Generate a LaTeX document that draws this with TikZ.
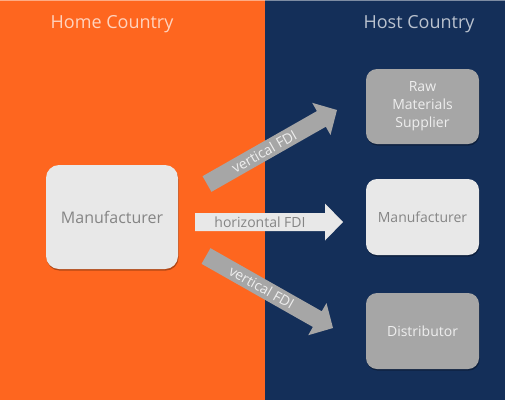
\documentclass[tikz,border=0pt]{standalone}
\usepackage{fontspec}
\setmainfont{Open Sans}
\usetikzlibrary{calc,shadows}
\definecolor{homeorange}{HTML}{FE661F}
\definecolor{hostnavy}{HTML}{142F59}
\definecolor{hometitle}{HTML}{FFD3BE}
\definecolor{hosttitle}{HTML}{BAC2CE}
\definecolor{lightbox}{HTML}{E8E8E8}
\definecolor{darkbox}{HTML}{A6A6A6}
\definecolor{darktext}{HTML}{858585}
\definecolor{lighttext}{HTML}{EEEEEE}
\tikzset{
  title/.style={font=\fontsize{18}{22}\selectfont, anchor=base},
  boxbase/.style={rounded corners=11pt, inner sep=2pt, align=center,
    drop shadow={shadow xshift=0.6pt, shadow yshift=-1.6pt, opacity=0.3, fill=black}},
  lightnode/.style={boxbase, fill=lightbox, text=darktext},
  darknode/.style={boxbase, fill=darkbox, text=lighttext},
  arrowlabel/.style={font=\fontsize{14}{16}\selectfont, inner sep=0pt},
}
% fat arrow: #1 tail, #2 tip, #3 fill, #4 text colour, #5 label, #6 name
\newcommand\fatarrow[6]{%
  \coordinate (#6h) at ($(#2)!18pt!(#1)$);
  \fill[#3] ($(#1)!9pt!90:(#2)$) -- ($(#6h)!9pt!90:(#2)$) -- ($(#6h)!18.5pt!90:(#2)$)
     -- (#2) -- ($(#6h)!18.5pt!-90:(#2)$) -- ($(#6h)!9pt!-90:(#2)$) -- ($(#1)!9pt!-90:(#2)$) -- cycle;
  \path (#1) -- (#6h) node[midway, sloped, arrowlabel, text=#4] (#6l) {#5};
}
\begin{document}
\begin{tikzpicture}[x=1pt, y=-1pt]
\useasboundingbox (0,0) rectangle (505,400);
\fill[homeorange] (0,0) rectangle (265,400);
\fill[hostnavy] (265,0) rectangle (505,400);
\fill[white, opacity=0.45] (0,0) rectangle (505,1.2);

\node[title, text=hometitle] (hometitle) at (112,28) {Home Country};
\node[title, text=hosttitle] (hosttitle) at (419,28) {Host Country};

\node[lightnode, minimum width=132pt, minimum height=104pt, rounded corners=13pt,
      font=\fontsize{16}{19}\selectfont] (lman) at (112,217) {Manufacturer};
\node[darknode, minimum width=113pt, minimum height=75pt,
      font=\fontsize{14}{18}\selectfont] (raw) at (422.5,106.5) {Raw\\Materials\\Supplier};
\node[lightnode, minimum width=113pt, minimum height=76pt,
      font=\fontsize{14}{18}\selectfont] (rman) at (422.5,217) {Manufacturer};
\node[darknode, minimum width=113pt, minimum height=76pt,
      font=\fontsize{14}{18}\selectfont] (dist) at (422.5,331) {Distributor};

\coordinate (t1) at (207,184); \coordinate (p1) at (337,110);
\coordinate (t2) at (195,222); \coordinate (p2) at (343,222);
\coordinate (t3) at (206,256); \coordinate (p3) at (333,328);

\fatarrow{t1}{p1}{darkbox}{lighttext}{vertical FDI}{a1}
\fatarrow{t2}{p2}{lightbox}{darktext}{horizontal FDI}{a2}
\fatarrow{t3}{p3}{darkbox}{lighttext}{vertical FDI}{a3}
\end{tikzpicture}
\end{document}
